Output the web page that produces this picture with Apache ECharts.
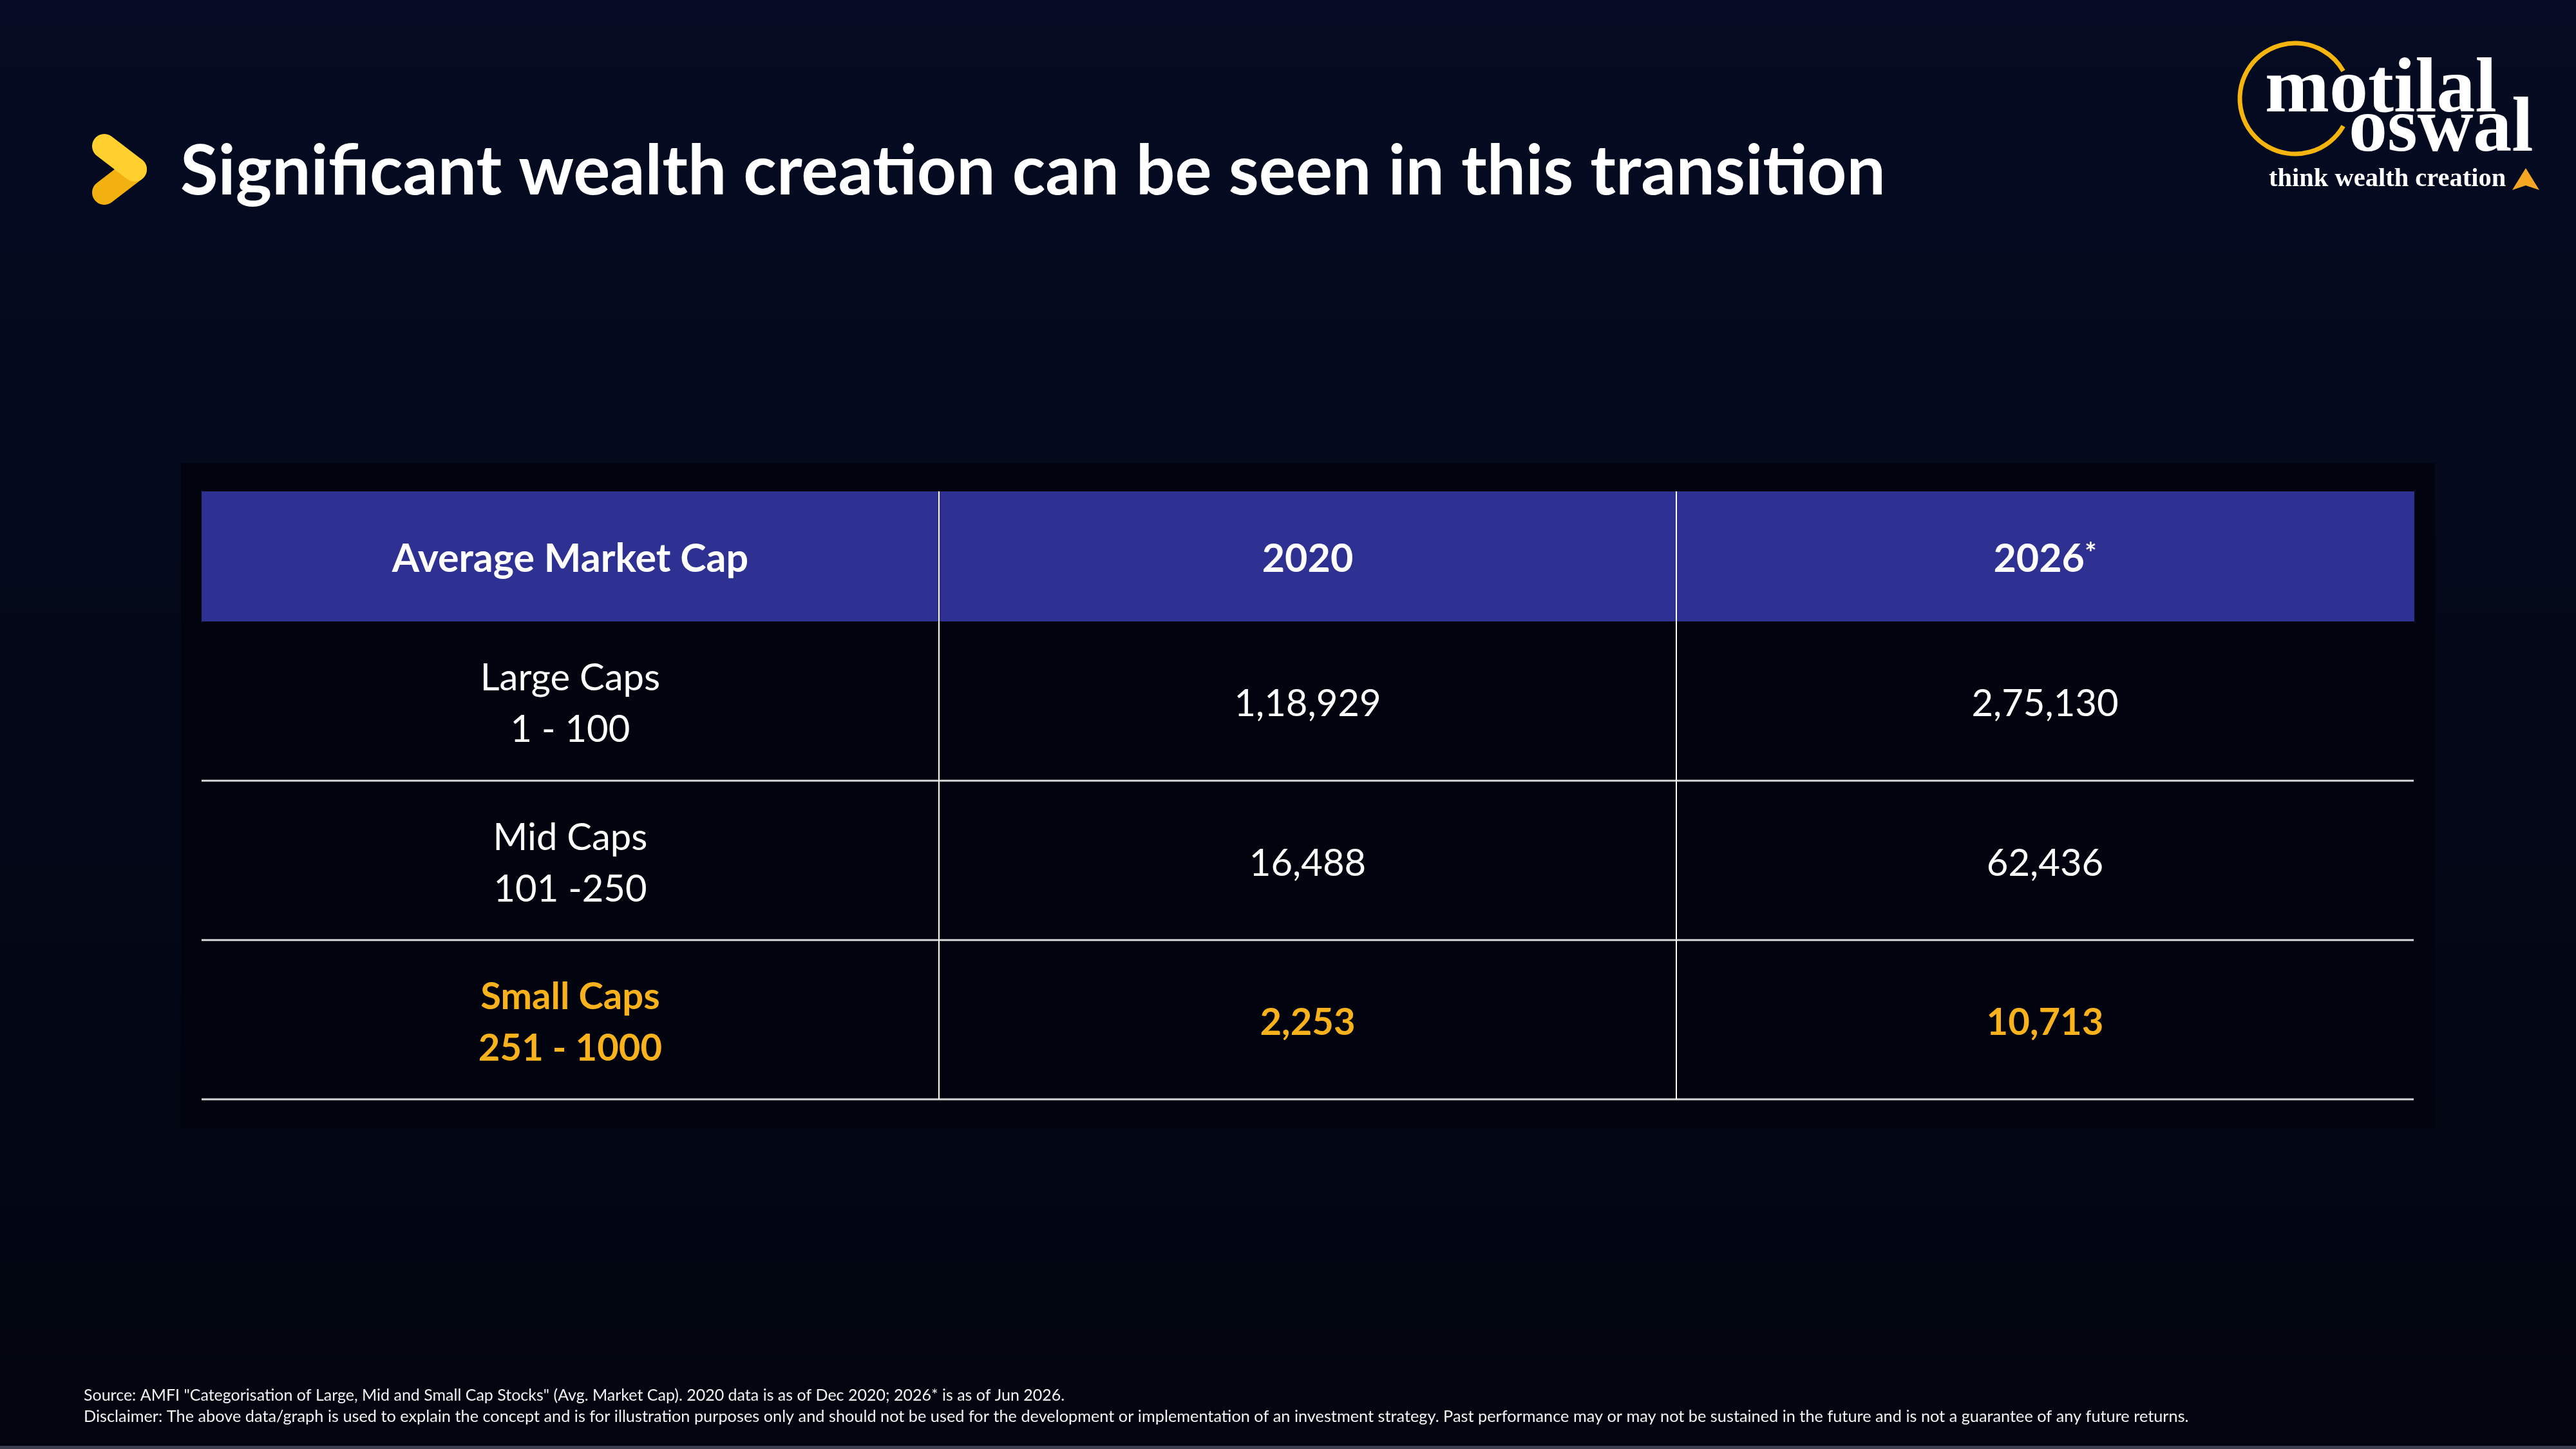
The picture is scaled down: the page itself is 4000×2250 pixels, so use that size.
<!DOCTYPE html>
<html>
<head>
<meta charset="utf-8">
<title>Average Market Cap</title>
<script src="https://cdn.jsdelivr.net/npm/echarts@6/dist/echarts.min.js"></script>
<style>
  html, body { margin: 0; padding: 0; background: #03081a; }
  #main { width: 4000px; height: 2250px; }
</style>
</head>
<body>
<div id="main"></div>
<script>
// table content
var columns = ['Average Market Cap', '2020', '2026*'];
var segments = ['Large Caps', 'Mid Caps', 'Small Caps'];
var ranks = ['1 - 100', '101 -250', '251 - 1000'];
var cap2020 = [118929, 16488, 2253];
var cap2026 = [275130, 62436, 10713];
var highlightRow = 2;

var WHITE = '#ffffff';
var GOLD = '#F9B21B';
var HEAD_BG = '#2E3192';
var FONT = 'Lato';

// indian digit grouping: 118929 -> 1,18,929
function inr(n) {
    var s = String(n);
    if (s.length <= 3) return s;
    var last3 = s.slice(-3);
    var rest = s.slice(0, -3).replace(/\B(?=(\d{2})+(?!\d))/g, ',');
    return rest + ',' + last3;
}

var bodyData = [];
for (var r = 0; r < segments.length; r++) {
    bodyData.push([0, r, segments[r] + '\n' + ranks[r]]);
    bodyData.push([1, r, inr(cap2020[r])]);
    bodyData.push([2, r, inr(cap2026[r])]);
}
var headData = columns.map(function (c, i) { return [i, 0, c]; });

var chart = echarts.init(document.getElementById('main'));

option = {
    backgroundColor: {
        type: 'linear', x: 0, y: 0, x2: 0, y2: 1,
        colorStops: [{offset: 0, color: '#050b22'}, {offset: 1, color: '#02050f'}]
    },
    title: {
        text: 'Significant wealth creation can be seen in this transition',
        left: 280,
        top: 214,
        padding: 0,
        textStyle: {
            color: WHITE,
            fontFamily: FONT,
            fontWeight: 'bold',
            fontSize: 107
        }
    },
    grid: [
        {left: 313, right: 252, top: 763, height: 202, show: false},
        {left: 313, right: 252, top: 965, height: 742, show: false}
    ],
    xAxis: [
        {type: 'category', gridIndex: 0, data: columns, show: false},
        {type: 'category', gridIndex: 1, data: columns, show: false}
    ],
    yAxis: [
        {type: 'category', gridIndex: 0, data: ['head'], show: false},
        {type: 'category', gridIndex: 1, data: segments, inverse: true, show: false}
    ],
    graphic: [
        // dark panel behind the table
        {type: 'rect', z: -10, shape: {x: 281, y: 719, width: 3500, height: 1033},
         style: {fill: '#01040f'}},
        // chevron mark
        {type: 'line', shape: {x1: 209, y1: 263, x2: 162, y2: 299},
         style: {stroke: '#F2B111', lineWidth: 38, lineCap: 'round'}},
        {type: 'line', shape: {x1: 162, y1: 227, x2: 209, y2: 263},
         style: {stroke: '#FFD02E', lineWidth: 38, lineCap: 'round'}},
        // logo
        {type: 'arc', shape: {cx: 3564, cy: 153, r: 86, startAngle: 0.52, endAngle: Math.PI * 2 - 0.52, clockwise: true},
         style: {stroke: '#F6B50E', lineWidth: 7, fill: 'none'}},
        {type: 'text', x: 3517, y: 142,
         style: {text: 'motilal', fill: WHITE, fontFamily: 'Liberation Serif', fontWeight: 'bold', fontSize: 120,
                 verticalAlign: 'middle', align: 'left'}},
        {type: 'text', x: 3647, y: 203,
         style: {text: 'oswal', fill: WHITE, fontFamily: 'Liberation Serif', fontWeight: 'bold', fontSize: 120,
                 verticalAlign: 'middle', align: 'left'}},
        {type: 'text', x: 3523, y: 279,
         style: {text: 'think wealth creation', fill: WHITE, fontFamily: 'Liberation Serif', fontWeight: 'bold', fontSize: 40.5,
                 verticalAlign: 'middle', align: 'left'}},
        {type: 'polygon', shape: {points: [[3922, 261], [3943, 295], [3922, 288], [3901, 295]]},
         style: {fill: '#F5A623'}},
        // footnotes
        {type: 'text', x: 130, y: 2167,
         style: {text: 'Source: AMFI "Categorisation of Large, Mid and Small Cap Stocks" (Avg. Market Cap). 2020 data is as of Dec 2020; 2026* is as of Jun 2026.',
                 fill: '#f2f2f2', fontFamily: FONT, fontSize: 25, verticalAlign: 'middle'}},
        {type: 'text', x: 130, y: 2200,
         style: {text: 'Disclaimer: The above data/graph is used to explain the concept and is for illustration purposes only and should not be used for the development or implementation of an investment strategy. Past performance may or may not be sustained in the future and is not a guarantee of any future returns.',
                 fill: '#f2f2f2', fontFamily: FONT, fontSize: 25.3, verticalAlign: 'middle'}},
        {type: 'rect', shape: {x: 0, y: 2245, width: 4000, height: 5}, style: {fill: '#3b3e4c'}}
    ],
    series: [
        {
            type: 'custom',
            name: 'header',
            xAxisIndex: 0,
            yAxisIndex: 0,
            data: headData,
            renderItem: function (params, api) {
                var c = api.value(0);
                var p = api.coord([c, 0]);
                var s = api.size([1, 1]);
                var x0 = p[0] - s[0] / 2, y0 = p[1] - s[1] / 2;
                var label = columns[c];
                var star = label.charAt(label.length - 1) === '*';
                var kids = [
                    {type: 'rect', shape: {x: x0, y: y0, width: s[0] + 1, height: s[1]}, style: {fill: HEAD_BG}},
                    {type: 'text', x: p[0], y: p[1] + 4, style: {
                        text: star ? '{b|' + label.slice(0, -1) + '}{s|*}' : label,
                        fill: WHITE, fontFamily: FONT, fontWeight: 'bold', fontSize: 61,
                        align: 'center', verticalAlign: 'middle',
                        rich: {
                            b: {fill: WHITE, fontFamily: FONT, fontWeight: 'bold', fontSize: 61},
                            s: {fill: WHITE, fontFamily: FONT, fontWeight: 'bold', fontSize: 44, verticalAlign: 'top', padding: [0, 0, 12, 0]}
                        }
                    }}
                ];
                if (c > 0) {
                    kids.push({type: 'line', shape: {x1: x0, y1: y0, x2: x0, y2: y0 + s[1]},
                        style: {stroke: WHITE, lineWidth: 2}});
                }
                return {type: 'group', children: kids};
            }
        },
        {
            type: 'custom',
            name: 'market cap',
            xAxisIndex: 1,
            yAxisIndex: 1,
            data: bodyData,
            renderItem: function (params, api) {
                var c = api.value(0), r = api.value(1);
                var p = api.coord([c, r]);
                var s = api.size([1, 1]);
                var x0 = p[0] - s[0] / 2, y0 = p[1] - s[1] / 2;
                var hot = r === highlightRow;
                var txt = bodyData[params.dataIndex][2];
                var kids = [
                    {type: 'text', x: p[0], y: p[1] + 5, style: {
                        text: txt, fill: hot ? GOLD : WHITE, fontFamily: FONT,
                        fontWeight: hot ? 'bold' : 'normal', fontSize: 58, lineHeight: 80,
                        align: 'center', verticalAlign: 'middle'
                    }},
                    {type: 'line', shape: {x1: x0, y1: y0 + s[1], x2: x0 + s[0], y2: y0 + s[1]},
                        style: {stroke: '#d6d6d6', lineWidth: 3}}
                ];
                if (c > 0) {
                    kids.push({type: 'line', shape: {x1: x0, y1: y0, x2: x0, y2: y0 + s[1]},
                        style: {stroke: WHITE, lineWidth: 2}});
                }
                return {type: 'group', children: kids};
            }
        }
    ]
};

chart.setOption(option);
</script>
</body>
</html>
